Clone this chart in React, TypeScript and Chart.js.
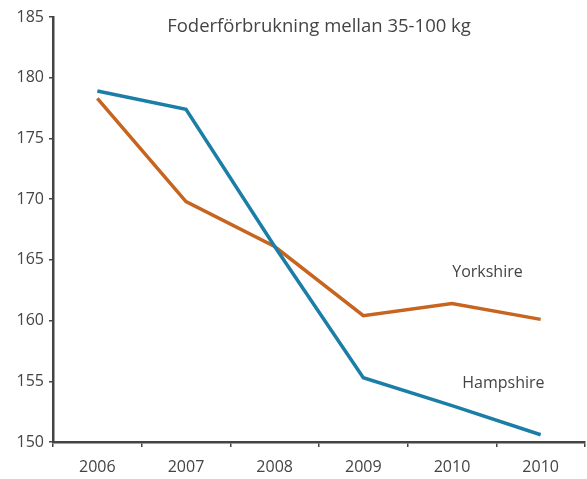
import React, { useEffect, useRef } from "react";
import { Chart, registerables } from "chart.js";

Chart.register(...registerables);

const categories = ["2006", "2007", "2008", "2009", "2010", "2010"];
const hampshire = [178.9, 177.4, 166.1, 155.3, 153.0, 150.6];
const yorkshire = [178.3, 169.8, 166.1, 160.4, 161.4, 160.1];
const yTicks = [150, 155, 160, 165, 170, 175, 180, 185];
const titleText = "Foderförbrukning mellan 35-100 kg";
const seriesLabels = [
  { text: "Yorkshire", x: 4.4, y: 164.0 },
  { text: "Hampshire", x: 4.58, y: 154.85 },
];

const FONT = "'Open Sans', Lato, sans-serif";
const TEXT = "#444444";

export default function App() {
  const ref = useRef<HTMLCanvasElement | null>(null);
  useEffect(() => {
    document.body.style.margin = "0";
    const labelPlugin = {
      id: "labels",
      afterDatasetsDraw(chart: any) {
        const ctx = chart.ctx;
        const xs = chart.scales.x;
        const ys = chart.scales.y;
        ctx.save();
        ctx.fillStyle = TEXT;
        ctx.textAlign = "center";
        ctx.textBaseline = "middle";
        ctx.font = `18.5px ${FONT}`;
        const x0 = xs.getPixelForValue(2);
        const x1 = xs.getPixelForValue(3);
        ctx.fillText(titleText, (x0 + x1) / 2, ys.getPixelForValue(184.2));
        ctx.font = `16px ${FONT}`;
        for (const l of seriesLabels) {
          const i = Math.floor(l.x);
          const f = l.x - i;
          const px = xs.getPixelForValue(i) * (1 - f) + xs.getPixelForValue(i + 1) * f;
          ctx.fillText(l.text, px, ys.getPixelForValue(l.y));
        }
        ctx.restore();
      },
    };
    const chart = new Chart(ref.current!, {
      type: "line",
      data: {
        labels: categories,
        datasets: [
          {
            label: "Hampshire",
            data: hampshire,
            borderColor: "#1b7ea6",
            borderWidth: 3.5,
            pointRadius: 0,
            tension: 0,
            fill: false,
          },
          {
            label: "Yorkshire",
            data: yorkshire,
            borderColor: "#c7641f",
            borderWidth: 3.5,
            pointRadius: 0,
            tension: 0,
            fill: false,
          },
        ],
      },
      options: {
        animation: false,
        responsive: false,
        maintainAspectRatio: false,
        layout: { padding: { top: 17, right: 2, left: 0, bottom: 0 } },
        plugins: {
          legend: { display: false },
          tooltip: { enabled: false },
          title: { display: false },
        },
        scales: {
          x: {
            type: "category",
            offset: true,
            grid: {
              display: true,
              offset: true,
              drawOnChartArea: false,
              drawTicks: true,
              tickLength: 5,
              color: "#444",
              lineWidth: 1.5,
            },
            border: { display: true, color: "#444", width: 2.5 },
            ticks: {
              color: TEXT,
              font: { family: FONT, size: 16 },
              padding: 11,
              maxRotation: 0,
              autoSkip: false,
            },
            afterFit(scale: any) {
              scale.height = 37;
            },
          },
          y: {
            min: 150,
            max: 185,
            afterBuildTicks(scale: any) {
              scale.ticks = yTicks.map((v) => ({ value: v }));
            },
            grid: {
              display: true,
              drawOnChartArea: false,
              drawTicks: true,
              tickLength: 4,
              color: "#444",
              lineWidth: 1.5,
            },
            border: { display: true, color: "#444", width: 2.5 },
            ticks: {
              color: TEXT,
              font: { family: FONT, size: 16 },
              padding: 5,
            },
            afterFit(scale: any) {
              scale.width = 53;
            },
          },
        },
      },
      plugins: [labelPlugin],
    });
    return () => chart.destroy();
  }, []);
  return (
    <div style={{ position: "fixed", left: 0, top: 0, width: 587, height: 479, background: "#fff" }}>
      <canvas ref={ref} width={587} height={479} style={{ width: 587, height: 479, display: "block" }} />
    </div>
  );
}
